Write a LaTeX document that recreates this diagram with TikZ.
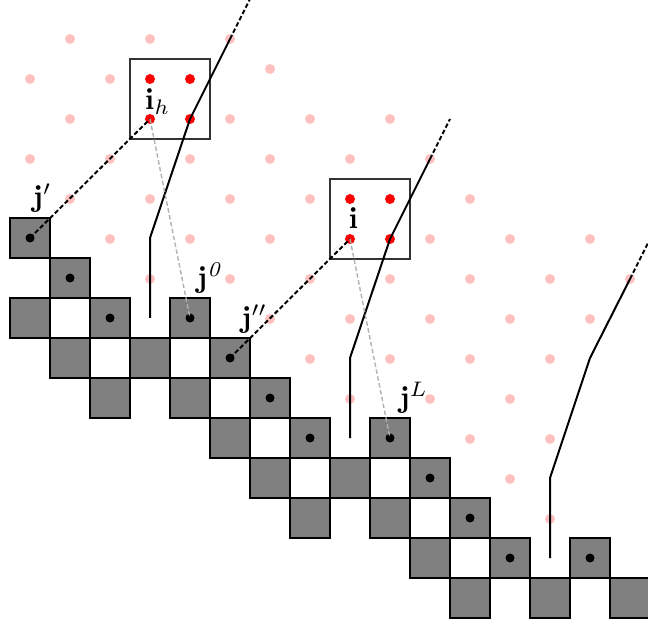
\documentclass[tikz,border=0pt]{standalone}
\definecolor{pinkc}{RGB}{255,192,192}
\definecolor{cellgray}{RGB}{128,128,128}
\begin{document}
\begin{tikzpicture}[x=1pt,y=-1pt,
  cell/.style={draw=black,line width=2pt,fill=cellgray,minimum size=40pt,inner sep=0},
  bdot/.style={circle,fill=black,inner sep=0,minimum size=9pt},
  pdot/.style={circle,fill=pinkc,inner sep=0,minimum size=10pt},
  rdot/.style={circle,fill=red,inner sep=0,minimum size=10pt},
  framebox/.style={draw=black!80,line width=1.5pt},
  solidline/.style={line width=2pt},
  blkdash/.style={line width=2pt,dash pattern=on 4.5pt off 2.5pt},
  graydash/.style={line width=1.4pt,draw=black!30,dash pattern=on 4.5pt off 2.5pt},
  lbl/.style={inner sep=0,scale=3}]
\useasboundingbox (0,0) rectangle (648,628);
% pink lattice dots
\foreach \x/\y [count=\k] in {70/39,150/39,230/39,270/69,30/79,110/79,
  70/119,230/119,310/119,390/119,
  30/159,110/159,190/159,270/159,350/159,430/159,
  70/199,150/199,230/199,310/199,470/199,
  110/239,190/239,270/239,430/239,510/239,590/239,
  150/279,230/279,310/279,390/279,470/279,550/279,630/279,
  270/319,350/319,430/319,510/319,590/319,
  310/359,390/359,470/359,550/359,
  350/399,430/399,510/399,
  470/439,550/439,510/479,550/519}
  \node[pdot] (p\k) at (\x,\y) {};
% gray cells
\foreach \x/\y [count=\k] in {30/238,70/278,30/318,110/318,190/318,
  70/358,150/358,230/358,110/398,190/398,270/398,
  230/438,310/438,390/438,270/478,350/478,430/478,
  310/518,390/518,470/518,430/558,510/558,590/558,
  470/598,550/598,630/598}
  \node[cell] (c\k) at (\x,\y) {};
% frames
\node[framebox,minimum size=80pt,inner sep=0] (boxh) at (170,99) {};
\node[framebox,minimum size=80pt,inner sep=0] (boxi) at (370,219) {};
% red dots
\node[rdot] (r1) at (150,79) {};
\node[rdot] (r2) at (190,79) {};
\node[rdot] (ih) at (150,119) {};
\node[rdot] (r4) at (190,119) {};
\node[rdot] (r5) at (350,199) {};
\node[rdot] (r6) at (390,199) {};
\node[rdot] (i) at (350,239) {};
\node[rdot] (r8) at (390,239) {};
% black dots
\node[bdot] (jp) at (30,238) {};
\node[bdot] (b2) at (70,278) {};
\node[bdot] (b3) at (110,318) {};
\node[bdot] (j0) at (190,318) {};
\node[bdot] (jpp) at (230,358) {};
\node[bdot] (b6) at (270,398) {};
\node[bdot] (b7) at (310,438) {};
\node[bdot] (jL) at (390,438) {};
\node[bdot] (b9) at (430,478) {};
\node[bdot] (b10) at (470,518) {};
\node[bdot] (b11) at (510,558) {};
\node[bdot] (b12) at (590,558) {};
% polylines
\coordinate (a0) at (150,318); \coordinate (a1) at (150,238);
\coordinate (a2) at (230,39);  \coordinate (a3) at (250,-1);
\coordinate (e0) at (350,438); \coordinate (e1) at (350,358);
\coordinate (e2) at (430,159); \coordinate (e3) at (450,119);
\coordinate (f0) at (550,558); \coordinate (f1) at (550,478);
\coordinate (f2) at (590,358); \coordinate (f3) at (630,279);
\coordinate (f4) at (650,239);
\draw[solidline] (a0) -- (a1) -- (r4.center) -- (a2);
\draw[blkdash] (a2) -- (a3);
\draw[solidline] (e0) -- (e1) -- (r8.center) -- (e2);
\draw[blkdash] (e2) -- (e3);
\draw[solidline] (f0) -- (f1) -- (f2) -- (f3);
\draw[blkdash] (f3) -- (f4);
% connectors
\draw[blkdash] (jp.center) -- (ih.center);
\draw[blkdash] (jpp.center) -- (i.center);
\draw[graydash] (ih.center) -- (j0.center);
\draw[graydash] (i.center) -- (jL.center);
% labels
\node[lbl] (ljp) at (42,198) {$\mathbf{j}'$};
\node[lbl] (lih) at (157.5,101.5) {$\mathbf{i}_h$};
\node[lbl] (lj0) at (210.5,278) {$\mathbf{j}^{\mathit{0}}$};
\node[lbl] (ljpp) at (254,319) {$\mathbf{j}''$};
\node[lbl] (li) at (353.5,218.5) {$\mathbf{i}$};
\node[lbl] (ljL) at (413.5,398) {$\mathbf{j}^L$};
\end{tikzpicture}
\end{document}
